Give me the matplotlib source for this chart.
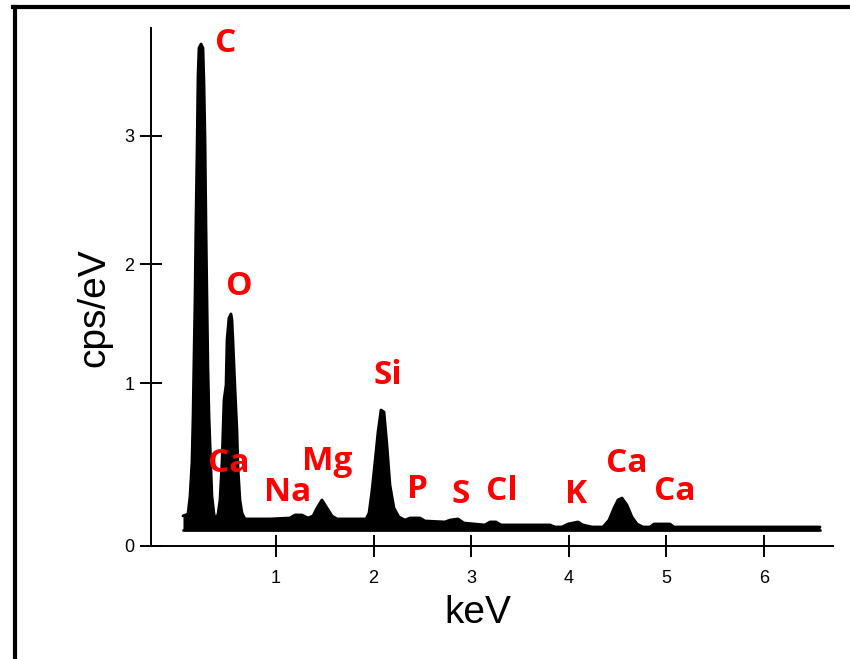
import matplotlib
matplotlib.use("Agg")
import matplotlib.pyplot as plt
from matplotlib.lines import Line2D

# EDS spectrum: energy (keV) and top edge of the trace (cps/eV)
energy = [0.047, 0.098, 0.119, 0.139, 0.150, 0.160, 0.170, 0.180, 0.191, 0.201,
          0.211, 0.232, 0.252, 0.262, 0.273, 0.283, 0.293, 0.303, 0.314, 0.334,
          0.344, 0.365, 0.380, 0.406, 0.426, 0.447, 0.467, 0.488, 0.498, 0.518,
          0.539, 0.549, 0.559, 0.580, 0.600, 0.611, 0.631, 0.652, 0.682, 0.939,
          1.143, 1.195, 1.266, 1.328, 1.379, 1.420, 1.471, 1.523, 1.574, 1.625,
          1.922, 1.953, 1.984, 2.014, 2.045, 2.076, 2.107, 2.137, 2.168, 2.209,
          2.260, 2.322, 2.373, 2.475, 2.527, 2.732, 2.783, 2.865, 2.926, 3.141,
          3.193, 3.254, 3.305, 3.807, 3.859, 3.930, 3.992, 4.094, 4.145, 4.238,
          4.350, 4.412, 4.463, 4.504, 4.545, 4.596, 4.648, 4.699, 4.760, 4.832,
          4.873, 5.037, 5.078, 6.574]
counts = [0.220, 0.234, 0.366, 0.615, 0.951, 1.390, 1.800, 2.385, 2.898, 3.446,
          3.644, 3.673, 3.644, 3.395, 2.971, 2.334, 1.800, 1.302, 0.951, 0.556,
          0.366, 0.234, 0.190, 0.234, 0.337, 0.615, 1.068, 1.178, 1.507, 1.668,
          1.698, 1.654, 1.507, 1.156, 0.849, 0.571, 0.337, 0.241, 0.198, 0.198,
          0.205, 0.227, 0.227, 0.205, 0.220, 0.278, 0.337, 0.278, 0.220, 0.198,
          0.198, 0.241, 0.410, 0.615, 0.834, 0.995, 0.980, 0.739, 0.446, 0.278,
          0.212, 0.190, 0.205, 0.205, 0.183, 0.176, 0.190, 0.198, 0.168, 0.154,
          0.176, 0.176, 0.154, 0.154, 0.139, 0.139, 0.161, 0.176, 0.154, 0.139,
          0.139, 0.190, 0.278, 0.337, 0.351, 0.300, 0.212, 0.161, 0.139, 0.139,
          0.161, 0.161, 0.139, 0.139]
baseline = 0.117

# element labels and where they sit (keV, cps/eV)
elements = ["C", "O", "Ca", "Na", "Mg", "Si", "P", "S", "Cl", "K", "Ca", "Ca"]
label_x = [0.488, 0.621, 0.518, 1.123, 1.523, 2.148, 2.455, 2.895, 3.316, 4.074, 4.596, 5.088]
label_y = [3.673, 1.902, 0.600, 0.388, 0.615, 1.244, 0.410, 0.380, 0.395, 0.380, 0.600, 0.402]

xtick_vals = [1, 2, 3, 4, 5, 6]
# the printed y scale is uneven, ticks sit where the original draws them
ytick_vals = [0, 1.19, 2.06, 3.0]
ytick_labels = ["0", "1", "2", "3"]

fig = plt.figure(figsize=(8.5, 6.59), dpi=100)
ax = fig.add_axes([0.1776, 0.1715, 0.8024, 0.786])

ax.fill_between(energy, baseline, counts, color="black", lw=0)
ax.plot(energy, counts, color="black", lw=2, solid_capstyle="round")
ax.plot([energy[0], energy[-1]], [baseline, baseline], color="black", lw=2,
        solid_capstyle="round")

for name, x, y in zip(elements, label_x, label_y):
    ax.text(x, y, name, color="#ff0000", fontsize=24, fontweight="bold",
            family="Open Sans", ha="center", va="center")

ax.set_xlim(-0.281, 6.707)
ax.set_ylim(0, 3.79)
ax.set_xticks(xtick_vals)
ax.set_xticklabels([str(v) for v in xtick_vals])
ax.set_yticks(ytick_vals)
ax.set_yticklabels(ytick_labels)

for side in ["top", "right"]:
    ax.spines[side].set_visible(False)
for side in ["left", "bottom"]:
    ax.spines[side].set_linewidth(1.4)

ax.tick_params(axis="both", direction="inout", length=16, width=1.4,
               labelsize=13, colors="black")
ax.tick_params(axis="x", pad=9)
ax.tick_params(axis="y", pad=4)
for lab in ax.get_xticklabels() + ax.get_yticklabels():
    lab.set_family("Liberation Sans")

ax.set_xlabel("keV", fontsize=28, family="Liberation Sans")
ax.set_ylabel("cps/eV", fontsize=28, family="Liberation Sans")
ax.xaxis.set_label_coords(0.479, -0.095)
ax.yaxis.set_label_coords(-0.057, 0.461)

# page frame around the figure
fig.add_artist(Line2D([0.0176, 0.0176], [0, 0.9894], color="black", lw=3,
                      transform=fig.transFigure))
fig.add_artist(Line2D([0.0153, 1.0], [0.9894, 0.9894], color="black", lw=3,
                      transform=fig.transFigure))

fig.savefig("out.png", dpi=100)
